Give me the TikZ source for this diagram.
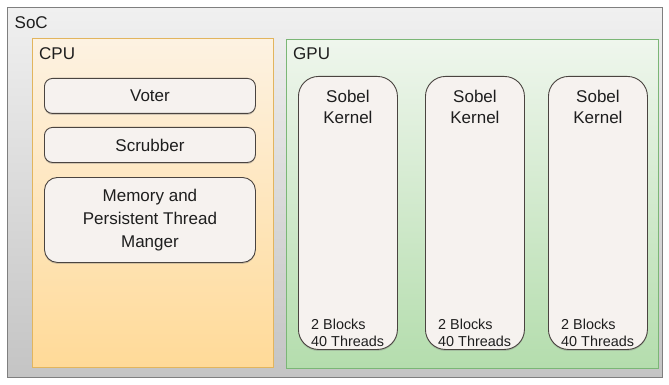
\documentclass[tikz,border=0pt]{standalone}
\usepackage{fontspec}
\setmainfont{Liberation Sans}
\usetikzlibrary{shadows}
\definecolor{socline}{HTML}{7F7F7F}
\definecolor{soctop}{HTML}{F0F0F0}
\definecolor{socbot}{HTML}{C4C4C4}
\definecolor{cpuline}{HTML}{E2B55E}
\definecolor{cputop}{HTML}{FDF2E2}
\definecolor{cpubot}{HTML}{FFDA98}
\definecolor{gpuline}{HTML}{7BB676}
\definecolor{gputop}{HTML}{EFF6ED}
\definecolor{gpubot}{HTML}{B4DDAD}
\definecolor{boxfill}{HTML}{F6F2EF}
\definecolor{boxline}{HTML}{4A4440}
\definecolor{txt}{HTML}{1E1E1E}
\tikzset{
  region/.style={draw, line width=0.8pt, anchor=north west, inner sep=0pt},
  inbox/.style={draw=boxline, fill=boxfill, line width=0.9pt, anchor=north west, inner sep=0pt,
     drop shadow={shadow xshift=0pt, shadow yshift=-1.5pt, opacity=0.35}},
  lbl/.style={text=txt, font=\fontsize{17}{20}\selectfont, inner sep=0pt},
  small/.style={text=txt, font=\fontsize{14.4}{17}\selectfont, inner sep=0pt, align=left},
}
\begin{document}
\begin{tikzpicture}[x=1pt,y=-1pt]
\useasboundingbox (0,0) rectangle (669,385);
% SoC
\node[region, draw=socline, top color=soctop, bottom color=socbot,
      minimum width=655, minimum height=370] (soc) at (7,7) {};
\node[lbl, anchor=west] (soclbl) at (14.5,23) {SoC};
% CPU
\node[region, draw=cpuline, top color=cputop, bottom color=cpubot,
      minimum width=241, minimum height=329] (cpu) at (32,38) {};
\node[lbl, anchor=west] (cpulbl) at (39,54) {CPU};
% GPU
\node[region, draw=gpuline, top color=gputop, bottom color=gpubot,
      minimum width=372, minimum height=329] (gpu) at (286,39) {};
\node[lbl, anchor=west] (gpulbl) at (293,54) {GPU};
% CPU boxes
\node[inbox, rounded corners=8pt, minimum width=211, minimum height=35] (voter) at (44,78) {};
\node[lbl] at (voter.center) {Voter};
\node[inbox, rounded corners=8pt, minimum width=211, minimum height=35] (scrub) at (44,127) {};
\node[lbl] at (scrub.center) {Scrubber};
\node[inbox, rounded corners=13pt, minimum width=211, minimum height=85] (mem) at (44,177) {};
\node[lbl, align=center, font=\fontsize{17}{23}\selectfont] at (mem.center) {Memory and\\Persistent Thread\\Manger};
% Kernels
\foreach \x/\n in {298/k1, 425/k2, 548/k3}{
  \node[inbox, rounded corners=20pt, minimum width=99, minimum height=273] (\n) at (\x,76) {};
  \node[lbl, align=center, font=\fontsize{17}{21}\selectfont] at ([yshift=-31pt]\n.north) {Sobel\\Kernel};
  \node[small, anchor=west, font=\fontsize{14.4}{17}\selectfont] at ([xshift=13pt, yshift=17.5pt]\n.south west) {2 Blocks\\40 Threads};
}
\end{tikzpicture}
\end{document}
